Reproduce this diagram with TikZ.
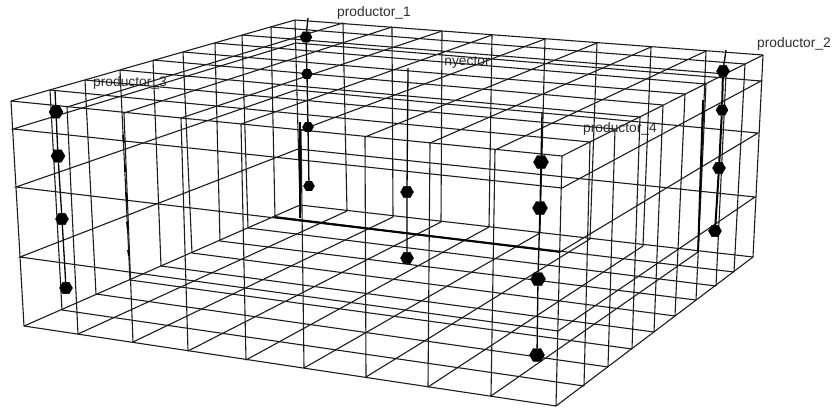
\documentclass[tikz,border=0pt]{standalone}
\usepackage{fontspec}
\setmainfont{Liberation Sans}
\usetikzlibrary{shapes.geometric}
\definecolor{gridc}{HTML}{1C1C1C}
\tikzset{
  gridline/.style={draw=gridc,line width=1.1pt},
  thickline/.style={draw=black,line width=1.8pt},
  wellline/.style={draw=black,line width=1.3pt},
  wellheavy/.style={draw=black,line width=2pt},
  welldot/.style={shape=regular polygon,regular polygon sides=6,fill=black,draw=black,inner sep=0pt,minimum size=#1},
  welldot/.default=11pt,
  wellname/.style={font=\fontsize{13.8}{15}\selectfont,text=black!82,inner sep=0pt}
}
\begin{document}
\begin{tikzpicture}[x=1pt,y=-1pt]
\useasboundingbox (0,0) rectangle (833,408);
% labels (under the grid)
\node[wellname] (l1) at (374,13) {productor\_1};
\node[wellname] (l2) at (794,44) {productor\_2};
\node[wellname] (l3) at (130,83) {productor\_3};
\node[wellname] (l4) at (620,129) {productor\_4};
\node[wellname] (l5) at (467,62) {nyector};
% front-left face verticals
\foreach \a/\b/\c/\d in {11/101/24/326,67/107/78/334,124/113/133/342,181/118/188/351,241/124/246/360,301/130/304/368,365/137/366/377,430/143/428/387,495/150/491/396,562/156/556/406}
  \draw[gridline] (\a,\b) -- (\c,\d);
% front-right face verticals
\foreach \a/\b/\c/\d in {590/142/584/386,615/129/608/367,640/117/632/349,663/105/654/332,685/94/675/316,706/84/696/300,726/74/716/286,745/64/734/272,763/55/753/257}
  \draw[gridline] (\a,\b) -- (\c,\d);
% back-right face verticals
\foreach \a/\b/\c/\d in {295/20/300/205,343/23/347/211,392/27/393/217,442/31/441/222,492/35/489/227,545/39/540/233,597/43/590/239,651/47/643/246,706/51/698/252}
  \draw[gridline] (\a,\b) -- (\c,\d);
% back-left face verticals
\foreach \a/\b/\c/\d in {50/90/62/310,85/80/96/294,120/70/130/280,153/60/161/266,183/52/192/253,215/43/220/241,242/35/248/228,271/27/275/217}
  \draw[gridline] (\a,\b) -- (\c,\d);
% top grid
\foreach \a/\b/\c/\d in {11/101/295/20,67/107/343/23,124/113/392/27,181/118/442/31,241/124/492/35,301/130/545/39,365/137/597/43,430/143/651/47,495/150/706/51,562/156/763/55,
  11/101/562/156,50/90/590/142,85/80/615/129,120/70/640/117,153/60/663/105,183/52/685/94,215/43/706/84,242/35/726/74,271/27/745/64,295/20/763/55}
  \draw[gridline] (\a,\b) -- (\c,\d);
% floor grid
\foreach \a/\b/\c/\d in {24/326/300/205,78/334/347/211,133/342/393/217,188/351/441/222,246/360/489/227,304/368/540/233,366/377/590/239,428/387/643/246,491/396/698/252,556/406/753/257,
  24/326/556/406,62/310/584/386,96/294/608/367,130/280/632/349,161/266/654/332,192/253/675/316,220/241/696/300,248/228/716/286,275/217/734/272,300/205/753/257}
  \draw[gridline] (\a,\b) -- (\c,\d);
% level rings
\draw[gridline] (13,129) -- (562,188) -- (761,81) -- (296,43) -- cycle;
\draw[gridline] (16,187) -- (560,252) -- (758,133) -- (296,90) -- cycle;
\draw[gridline] (20,257) -- (558,331) -- (755,197) -- (298,149) -- cycle;
% thickened pieces
\draw[thickline] (300,122) -- (300,218);
\draw[thickline] (275,217) -- (560,252);
\draw[thickline] (703,100) -- (698,252);
\foreach \a/\b/\c/\d in {123/135/124/143,125/165/125/172,126/192/127/202,127/222/128/230,128/250/129/256}
  \draw[thickline] (\a,\b) -- (\c,\d);
% wells
\node[welldot=12pt] (a1) at (306,37) {};
\node[welldot=11pt] (a2) at (307,74) {};
\node[welldot=11pt] (a3) at (308,127) {};
\node[welldot=11pt] (a4) at (309,186) {};
\coordinate (a0) at (308,18);
\draw[wellline] (a0) -- (a1) -- (a2) -- (a3) -- (a4);
\node[welldot=13pt] (b1) at (723,71) {};
\node[welldot=12pt] (b2) at (722,110) {};
\node[welldot=13pt] (b3) at (719,168) {};
\node[welldot=13pt] (b4) at (715,231) {};
\coordinate (b0) at (726,50);
\draw[wellline] (b0) -- (b1);
\draw[wellheavy] (b1) -- (b2) -- (b3) -- (b4);
\node[welldot=14pt] (c1) at (56,112) {};
\node[welldot=14pt] (c2) at (58,156) {};
\node[welldot=13pt] (c3) at (62,219) {};
\node[welldot=13pt] (c4) at (66,288) {};
\coordinate (c0) at (55,90);
\draw[wellline] (c0) -- (c1) -- (c2) -- (c3) -- (c4);
\node[welldot=13pt] (d1) at (407,192) {};
\node[welldot=13pt] (d2) at (407,258) {};
\coordinate (d0) at (408,68);
\draw[wellline] (d0) -- (d1) -- (d2);
\node[welldot=15pt] (e1) at (541,162) {};
\node[welldot=15pt] (e2) at (540,208) {};
\node[welldot=15pt] (e3) at (538,279) {};
\node[welldot=15pt] (e4) at (537,355) {};
\coordinate (e0) at (542,112);
\draw[wellline] (e0) -- (e1) -- (e2) -- (e3) -- (e4);
\end{tikzpicture}
\end{document}
